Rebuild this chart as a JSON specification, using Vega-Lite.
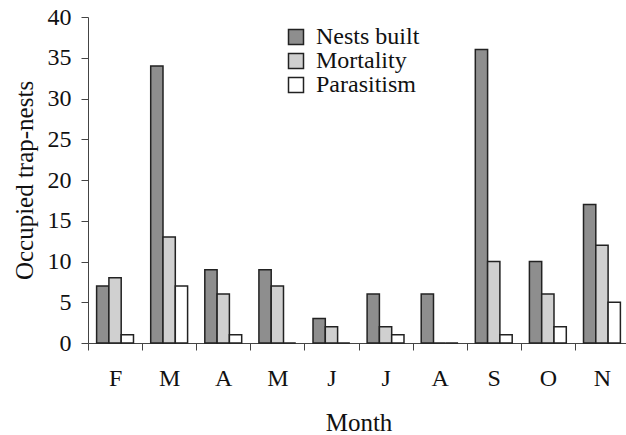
{
  "$schema": "https://vega.github.io/schema/vega-lite/v6.json",
  "width": 541,
  "height": 326,
  "autosize": "none",
  "padding": {"left": 88, "top": 17, "right": 0, "bottom": 92},
  "background": "white",
  "config": {
    "view": {"stroke": null},
    "font": "Liberation Serif",
    "axis": {"grid": false, "domainColor": "#444", "tickColor": "#444", "labelColor": "#111", "titleColor": "#111", "labelFont": "Liberation Serif", "titleFont": "Liberation Serif", "titleFontWeight": "normal", "labelFontSize": 24, "titleFontSize": 25}
  },
  "data": {
    "values": [
      {"m": "F", "s": "Nests built", "v": 7}, {"m": "F", "s": "Mortality", "v": 8}, {"m": "F", "s": "Parasitism", "v": 1},
      {"m": "M1", "s": "Nests built", "v": 34}, {"m": "M1", "s": "Mortality", "v": 13}, {"m": "M1", "s": "Parasitism", "v": 7},
      {"m": "A1", "s": "Nests built", "v": 9}, {"m": "A1", "s": "Mortality", "v": 6}, {"m": "A1", "s": "Parasitism", "v": 1},
      {"m": "M2", "s": "Nests built", "v": 9}, {"m": "M2", "s": "Mortality", "v": 7}, {"m": "M2", "s": "Parasitism", "v": 0},
      {"m": "J1", "s": "Nests built", "v": 3}, {"m": "J1", "s": "Mortality", "v": 2}, {"m": "J1", "s": "Parasitism", "v": 0},
      {"m": "J2", "s": "Nests built", "v": 6}, {"m": "J2", "s": "Mortality", "v": 2}, {"m": "J2", "s": "Parasitism", "v": 1},
      {"m": "A2", "s": "Nests built", "v": 6}, {"m": "A2", "s": "Mortality", "v": 0}, {"m": "A2", "s": "Parasitism", "v": 0},
      {"m": "S", "s": "Nests built", "v": 36}, {"m": "S", "s": "Mortality", "v": 10}, {"m": "S", "s": "Parasitism", "v": 1},
      {"m": "O", "s": "Nests built", "v": 10}, {"m": "O", "s": "Mortality", "v": 6}, {"m": "O", "s": "Parasitism", "v": 2},
      {"m": "N", "s": "Nests built", "v": 17}, {"m": "N", "s": "Mortality", "v": 12}, {"m": "N", "s": "Parasitism", "v": 5}
    ]
  },
  "mark": {"type": "bar", "stroke": "#222", "strokeWidth": 1.5},
  "encoding": {
    "x": {
      "field": "m", "type": "nominal", "sort": null,
      "scale": {"paddingInner": 0, "paddingOuter": 0},
      "axis": {"title": "Month", "labelAngle": 0, "tickBand": "extent", "tickSize": 7, "labelPadding": 16, "titlePadding": 20, "labelExpr": "substring(datum.label, 0, 1)"}
    },
    "xOffset": {
      "field": "s", "type": "nominal", "sort": ["Nests built", "Mortality", "Parasitism"],
      "scale": {"paddingInner": 0, "paddingOuter": 0.7}
    },
    "y": {
      "field": "v", "type": "quantitative",
      "scale": {"domain": [0, 40], "nice": false},
      "axis": {"title": "Occupied trap-nests", "values": [0, 5, 10, 15, 20, 25, 30, 35, 40], "tickSize": 7, "labelPadding": 10, "titlePadding": 10}
    },
    "fill": {
      "field": "s", "type": "nominal", "sort": ["Nests built", "Mortality", "Parasitism"],
      "scale": {"domain": ["Nests built", "Mortality", "Parasitism"], "range": ["#8e8e8e", "#d0d0d0", "#ffffff"]},
      "legend": {"title": null, "orient": "none", "legendX": 196, "legendY": 8, "symbolType": "square", "symbolSize": 225, "symbolStrokeColor": "#222", "symbolStrokeWidth": 1.5, "symbolOpacity": 1, "labelFont": "Liberation Serif", "labelFontSize": 24, "labelColor": "#111", "labelOffset": 8, "rowPadding": -1.5}
    }
  }
}
